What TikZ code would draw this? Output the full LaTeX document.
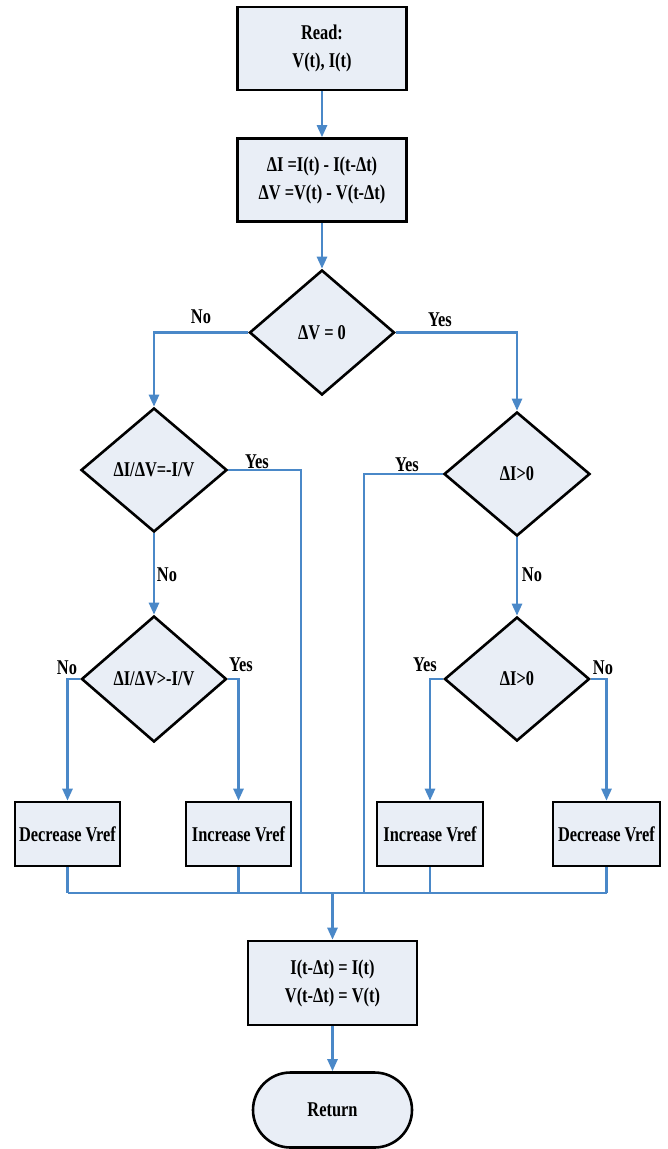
\documentclass[tikz,border=0pt]{standalone}
\usepackage{fontspec}
\setmainfont{Liberation Serif}[FakeStretch=0.78]
\usetikzlibrary{shapes.geometric,shapes.misc,arrows.meta}
\definecolor{flowblue}{HTML}{4A88C8}
\definecolor{boxfill}{HTML}{E9EEF6}
\tikzset{
  txt/.style={font=\bfseries\fontsize{21}{28}\selectfont, align=center},
  procbox/.style={txt, draw=black, line width=2.6pt, fill=boxfill, rectangle, inner sep=0pt},
  decbox/.style={txt, draw=black, line width=2.6pt, fill=boxfill, diamond, inner sep=0pt},
  termbox/.style={txt, draw=black, line width=2.6pt, fill=boxfill, rounded rectangle, inner sep=0pt},
  flow/.style={draw=flowblue, line width=2.5pt},
  flowarrow/.style={flow, -{Triangle[length=12pt,width=10pt]}},
  lbl/.style={txt, inner sep=0pt}
}
\begin{document}
\begin{tikzpicture}[x=1pt,y=-1pt]
\useasboundingbox (0,0) rectangle (667,1149);
% nodes
\node[procbox, minimum width=169pt, minimum height=83pt] (read) at (322,48.5) {Read:\\V(t), I(t)};
\node[procbox, minimum width=169pt, minimum height=83pt] (delta) at (322,180) {ΔI =I(t) - I(t-Δt)\\ΔV =V(t) - V(t-Δt)};
\node[decbox, minimum width=145pt, minimum height=125pt] (d1) at (322,332.5) {ΔV = 0};
\node[decbox, minimum width=146pt, minimum height=124pt] (d2L) at (154,470) {ΔI/ΔV=-I/V};
\node[decbox, minimum width=146pt, minimum height=124pt] (d2R) at (517,474) {ΔI>0};
\node[decbox, minimum width=145pt, minimum height=126pt] (d3L) at (154,679) {ΔI/ΔV>-I/V};
\node[decbox, minimum width=145pt, minimum height=124pt] (d3R) at (517,679) {ΔI>0};
\node[procbox, minimum width=105pt, minimum height=64pt] (decL) at (67.5,834) {Decrease Vref};
\node[procbox, minimum width=105pt, minimum height=64pt] (incL) at (238.5,834) {Increase Vref};
\node[procbox, minimum width=106pt, minimum height=64pt] (incR) at (430,834) {Increase Vref};
\node[procbox, minimum width=107pt, minimum height=64pt] (decR) at (606.5,834) {Decrease Vref};
\node[procbox, minimum width=169pt, minimum height=84pt] (upd) at (332.5,983) {I(t-Δt) = I(t)\\V(t-Δt) = V(t)};
\node[termbox, minimum width=159pt, minimum height=75pt] (ret) at (332.5,1110) {Return};
% bus coordinates
\coordinate (busL) at (67.5,893);
\coordinate (busR) at (606.5,893);
\coordinate (bus1) at (301,893);
\coordinate (bus2) at (364,893);
\coordinate (busC) at (332.5,893);
% labels
\node[lbl] (lno1) at (201,317) {No};
\node[lbl] (lyes1) at (440,320) {Yes};
\node[lbl] (lyes2) at (257,462) {Yes};
\node[lbl] (lyes3) at (407,465) {Yes};
\node[lbl] (lno2) at (167,575) {No};
\node[lbl] (lno3) at (532,575) {No};
\node[lbl] (lno4) at (67,668) {No};
\node[lbl] (lyes4) at (241,665) {Yes};
\node[lbl] (lyes5) at (425,665) {Yes};
\node[lbl] (lno5) at (603,668) {No};
% connectors
\draw[flowarrow] (read.south) -- (delta.north);
\draw[flowarrow] (delta.south) -- (d1.north);
\draw[flowarrow] (d1.west) -| (d2L.north);
\draw[flowarrow] (d1.east) -| (d2R.north);
\draw[flowarrow] (d2L.south) -- (d3L.north);
\draw[flowarrow] (d2R.south) -- (d3R.north);
\draw[flow] (d2L.east) -| (bus1);
\draw[flow] (d2R.west) -| (bus2);
\draw[flowarrow] (d3L.west) -| (decL.north);
\draw[flowarrow] (d3L.east) -| (incL.north);
\draw[flowarrow] (d3R.west) -| (incR.north);
\draw[flowarrow] (d3R.east) -| (decR.north);
\draw[flow] (decL.south) -- (busL);
\draw[flow] (incL.south) -- (incL.south |- busL);
\draw[flow] (incR.south) -- (incR.south |- busL);
\draw[flow] (decR.south) -- (busR);
\draw[flow] (busL) -- (busR);
\draw[flowarrow] (busC) -- (upd.north);
\draw[flowarrow] (upd.south) -- (ret.north);
\end{tikzpicture}
\end{document}
